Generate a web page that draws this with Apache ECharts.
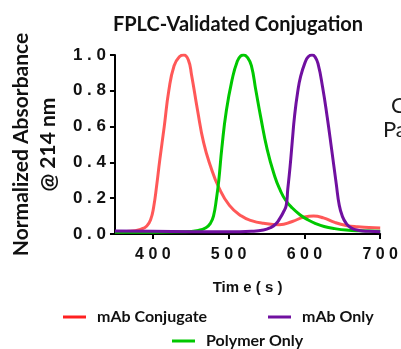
<!DOCTYPE html>
<html>
<head>
<meta charset="utf-8">
<script src="https://cdn.jsdelivr.net/npm/echarts@6/dist/echarts.min.js"></script>
<style>
  html, body { margin: 0; padding: 0; background: #fff; }
  #chart { width: 401px; height: 349px; }
</style>
</head>
<body>
<div id="chart"></div>
<script>
// FPLC traces, normalized absorbance at 214 nm
const conjTime = [350, 370, 385, 392, 397, 401, 405, 409, 415, 421, 428, 435, 441, 447, 451, 459, 467, 476, 487, 501, 517, 530, 546, 567, 584, 600, 612, 625, 640, 655, 670, 685, 700]
const conjValue = [0.012, 0.015, 0.028, 0.045, 0.08, 0.15, 0.27, 0.41, 0.60, 0.80, 0.94, 0.99, 1.0, 0.97, 0.89, 0.69, 0.51, 0.38, 0.26, 0.16, 0.10, 0.075, 0.06, 0.052, 0.07, 0.095, 0.10, 0.09, 0.065, 0.048, 0.04, 0.037, 0.034]

const polyTime = [350, 400, 440, 460, 470, 476, 480, 484, 487, 491, 497, 505, 511, 516, 520, 525, 530, 536, 542, 551, 561, 568, 575, 584, 595, 605, 615, 626, 640, 655, 675, 700]
const polyValue = [0.01, 0.01, 0.012, 0.02, 0.035, 0.06, 0.10, 0.20, 0.30, 0.48, 0.69, 0.87, 0.96, 0.995, 1.0, 0.985, 0.94, 0.80, 0.66, 0.47, 0.32, 0.245, 0.19, 0.145, 0.105, 0.078, 0.058, 0.042, 0.03, 0.022, 0.018, 0.016]

const mabTime = [350, 400, 450, 500, 530, 546, 555, 562, 568, 572, 576, 578, 580, 582, 584, 587, 591, 595, 601, 605, 610, 614, 618, 624, 630, 636, 642, 646, 650, 655, 662, 672, 685, 700]
const mabValue = [0.017, 0.015, 0.013, 0.012, 0.015, 0.022, 0.035, 0.055, 0.09, 0.12, 0.16, 0.25, 0.33, 0.42, 0.52, 0.66, 0.79, 0.88, 0.96, 0.99, 1.0, 0.99, 0.95, 0.82, 0.655, 0.47, 0.28, 0.16, 0.10, 0.06, 0.033, 0.02, 0.015, 0.013]

const xTicks = [400, 500, 600, 700]
const seriesNames = ['mAb Conjugate', 'Polymer Only', 'mAb Only']
const seriesColors = ['#ff2020', '#00c800', '#7010a0']

const pairs = (ts, vs) => ts.map((t, i) => [t, vs[i]])
const spaced = s => String(s).split('').join(' ')

const chart = echarts.init(document.getElementById('chart'), null, { renderer: 'canvas' })

const legendText = { fontFamily: 'Lato', fontWeight: 'bold', fontSize: 16, color: '#111', padding: [0, 0, 0, 6] }
const legendAt = (name, left, top) => ({
  data: [name], left, top, padding: 0,
  icon: 'rect', itemWidth: 23, itemHeight: 3,
  textStyle: legendText, selectedMode: false,
})

chart.setOption({
  animation: false,
  title: {
    text: 'FPLC-Validated Conjugation',
    left: 233, top: 10, textAlign: 'center',
    textStyle: { fontFamily: 'Lato', fontWeight: 'bold', fontSize: 20, color: '#111' },
  },
  grid: { left: 106, right: 15, top: 55, bottom: 115 },
  legend: [
    legendAt(seriesNames[0], 63, 309),
    legendAt(seriesNames[2], 268, 309),
    legendAt(seriesNames[1], 172, 333),
  ],
  xAxis: {
    type: 'value', min: 350, max: 700,
    name: 'Tim e ( s )', nameLocation: 'middle', nameGap: 46,
    nameTextStyle: { fontFamily: 'Liberation Sans', fontWeight: 'bold', fontSize: 15, color: '#111' },
    axisLine: { lineStyle: { color: '#000', width: 2 } },
    axisTick: { customValues: xTicks, length: 5, lineStyle: { color: '#000', width: 2 } },
    axisLabel: {
      customValues: xTicks, margin: 13, formatter: v => spaced(v),
      fontFamily: 'Liberation Sans', fontWeight: 'bold', fontSize: 16, color: '#111',
    },
    splitLine: { show: false },
  },
  yAxis: {
    type: 'value', min: 0, max: 1, interval: 0.2,
    name: 'Normalized Absorbance\n@ 214 nm', nameLocation: 'middle', nameRotate: 90, nameGap: 51,
    nameTextStyle: { fontFamily: 'Lato', fontWeight: 'bold', fontSize: 21, color: '#111', lineHeight: 27 },
    axisLine: { show: true, lineStyle: { color: '#000', width: 2 } },
    axisTick: { show: true, length: 5, lineStyle: { color: '#000', width: 2 } },
    axisLabel: {
      margin: 9, formatter: v => spaced(v.toFixed(1)),
      fontFamily: 'Liberation Sans', fontWeight: 'bold', fontSize: 17, color: '#111',
    },
    splitLine: { show: false },
  },
  graphic: [
    { type: 'text', left: 391, top: 95, style: { text: 'C', fontFamily: 'Lato', fontSize: 22, fill: '#1a1a1a' } },
    { type: 'text', left: 383, top: 119, style: { text: 'Pa', fontFamily: 'Lato', fontSize: 22, fill: '#1a1a1a' } },
  ],
  series: [
    { name: seriesNames[0], data: pairs(conjTime, conjValue), color: seriesColors[0], lineStyle: { opacity: 0.75 } },
    { name: seriesNames[1], data: pairs(polyTime, polyValue), color: seriesColors[1] },
    { name: seriesNames[2], data: pairs(mabTime, mabValue), color: seriesColors[2] },
  ].map(s => ({
    type: 'line', smooth: 0.5, showSymbol: false,
    ...s,
    lineStyle: { width: 3, ...(s.lineStyle || {}) },
  })),
})
</script>
</body>
</html>
